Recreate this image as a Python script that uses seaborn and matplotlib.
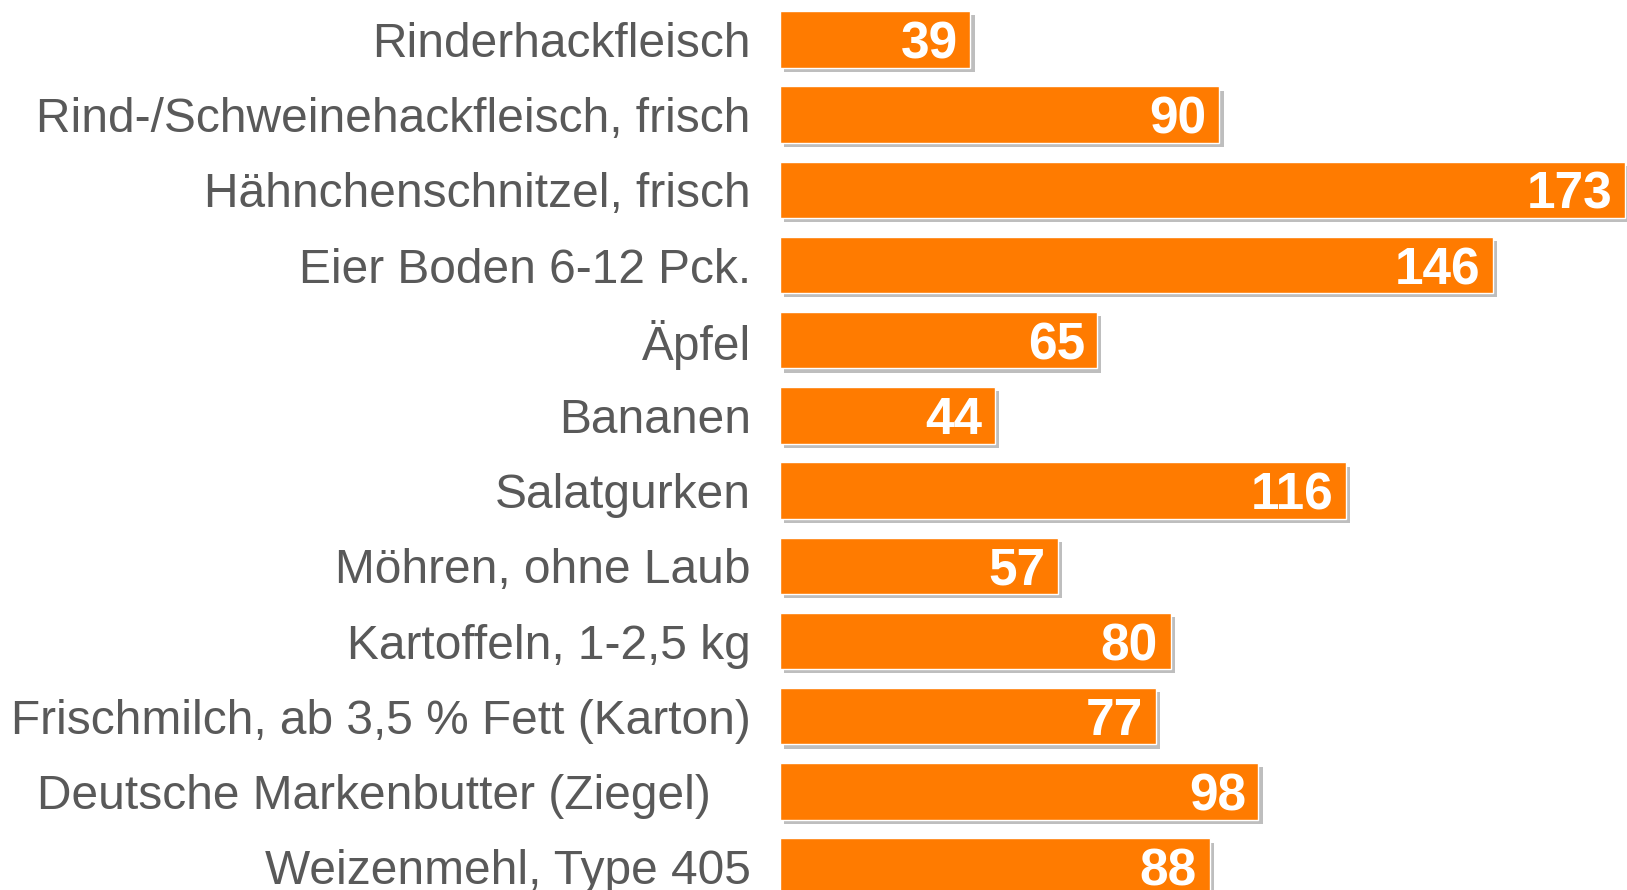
import seaborn as sns
import pandas as pd
import matplotlib.pyplot as plt
from matplotlib import patheffects as pe

products = ["Rinderhackfleisch",
            "Rind-/Schweinehackfleisch, frisch",
            "Hähnchenschnitzel, frisch",
            "Eier Boden 6-12 Pck.",
            "Äpfel",
            "Bananen",
            "Salatgurken",
            "Möhren, ohne Laub",
            "Kartoffeln, 1-2,5 kg",
            "Frischmilch, ab 3,5 % Fett (Karton)",
            "Deutsche Markenbutter (Ziegel)   ",
            "Weizenmehl, Type 405"]
values = [39, 90, 173, 146, 65, 44, 116, 57, 80, 77, 98, 88]

df = pd.DataFrame({"Produkt": products, "Wert": values})

sns.set_style("white")
plt.rcParams['font.family'] = ['Liberation Sans', 'DejaVu Sans']

fig = plt.figure(figsize=(16.27, 8.9), dpi=100)
ax = fig.add_axes([780 / 1627, 0, 1 - 780 / 1627, 1])

sns.barplot(data=df, y="Produkt", x="Wert", orient="h", color="#FF7B00",
            saturation=1, width=0.75, ax=ax)

# soft drop shadow like the original office chart
for bar in ax.patches:
    bar.set_path_effects([pe.SimplePatchShadow(offset=(3, -3), shadow_rgbFace="#7f7f7f", alpha=0.5),
                          pe.Normal()])

for i, v in enumerate(values):
    ax.annotate(str(v), xy=(v, i), xytext=(-9, 0), textcoords="offset points",
                ha="right", va="center_baseline", color="white",
                fontsize=37, fontweight="bold")

ax.set_xlim(0, 173.5)
ax.set_ylim(11.31, -0.524)
ax.set(xlabel=None, ylabel=None)
ax.set_xticks([])
ax.tick_params(axis="y", length=0, pad=21, labelsize=34.5, labelcolor="#595959")
for s in ax.spines.values():
    s.set_visible(False)

plt.savefig("out.png", dpi=100)
